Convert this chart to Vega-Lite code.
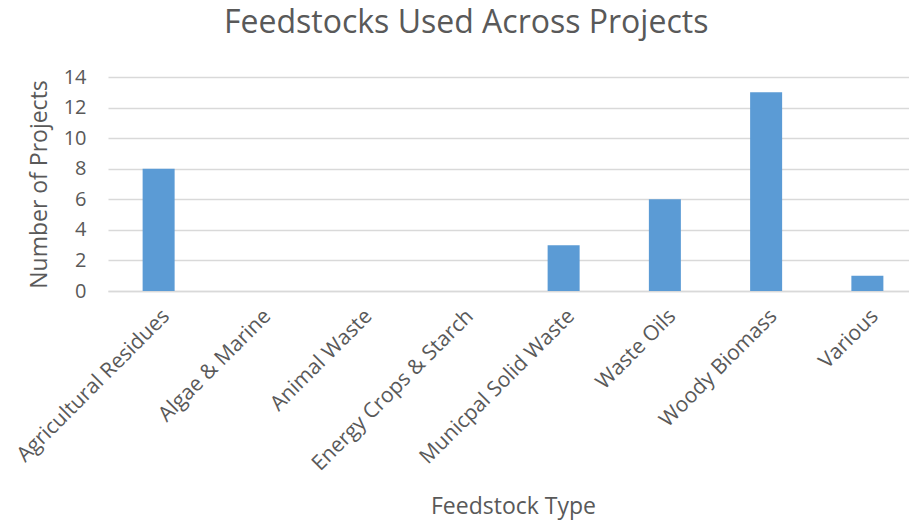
{
  "$schema": "https://vega.github.io/schema/vega-lite/v6.json",
  "width": 810,
  "height": 214,
  "autosize": {"type": "none"},
  "padding": {"left": 108, "top": 77, "right": 0, "bottom": 230},
  "background": "white",
  "title": {
    "text": "Feedstocks Used Across Projects",
    "anchor": "start",
    "frame": "group",
    "dx": 116,
    "offset": 27,
    "font": "Open Sans",
    "fontSize": 32,
    "fontWeight": "normal",
    "color": "#595959"
  },
  "data": {
    "values": [
      {"feedstock": "Agricultural Residues", "count": 8},
      {"feedstock": "Algae & Marine", "count": 0},
      {"feedstock": "Animal Waste", "count": 0},
      {"feedstock": "Energy Crops & Starch", "count": 0},
      {"feedstock": "Municpal Solid Waste", "count": 3},
      {"feedstock": "Waste Oils", "count": 6},
      {"feedstock": "Woody Biomass", "count": 13},
      {"feedstock": "Various", "count": 1}
    ]
  },
  "mark": {"type": "bar", "width": 32, "color": "#5B9BD5"},
  "encoding": {
    "x": {
      "field": "feedstock",
      "type": "nominal",
      "sort": null,
      "scale": {"paddingInner": 0, "paddingOuter": 0},
      "axis": {
        "title": "Feedstock Type",
        "titleFont": "Open Sans",
        "titleFontSize": 23,
        "titleFontWeight": "normal",
        "titleColor": "#595959",
        "titlePadding": 22,
        "labelAngle": -45,
        "labelFont": "Open Sans",
        "labelFontSize": 21,
        "labelLimit": 400,
        "labelColor": "#595959",
        "labelPadding": 14,
        "ticks": false,
        "domainColor": "#D9D9D9",
        "domainWidth": 1.5,
        "grid": false
      }
    },
    "y": {
      "field": "count",
      "type": "quantitative",
      "scale": {"domain": [0, 14]},
      "axis": {
        "title": "Number of Projects",
        "titleFont": "Open Sans",
        "titleFontSize": 23,
        "titleFontWeight": "normal",
        "titleColor": "#595959",
        "titlePadding": 12,
        "values": [0, 2, 4, 6, 8, 10, 12, 14],
        "labelFont": "Open Sans",
        "labelFontSize": 20,
        "labelColor": "#595959",
        "labelPadding": 22,
        "ticks": false,
        "domain": false,
        "gridColor": "#D9D9D9",
        "gridWidth": 1.5
      }
    }
  },
  "config": {"view": {"stroke": null}}
}
